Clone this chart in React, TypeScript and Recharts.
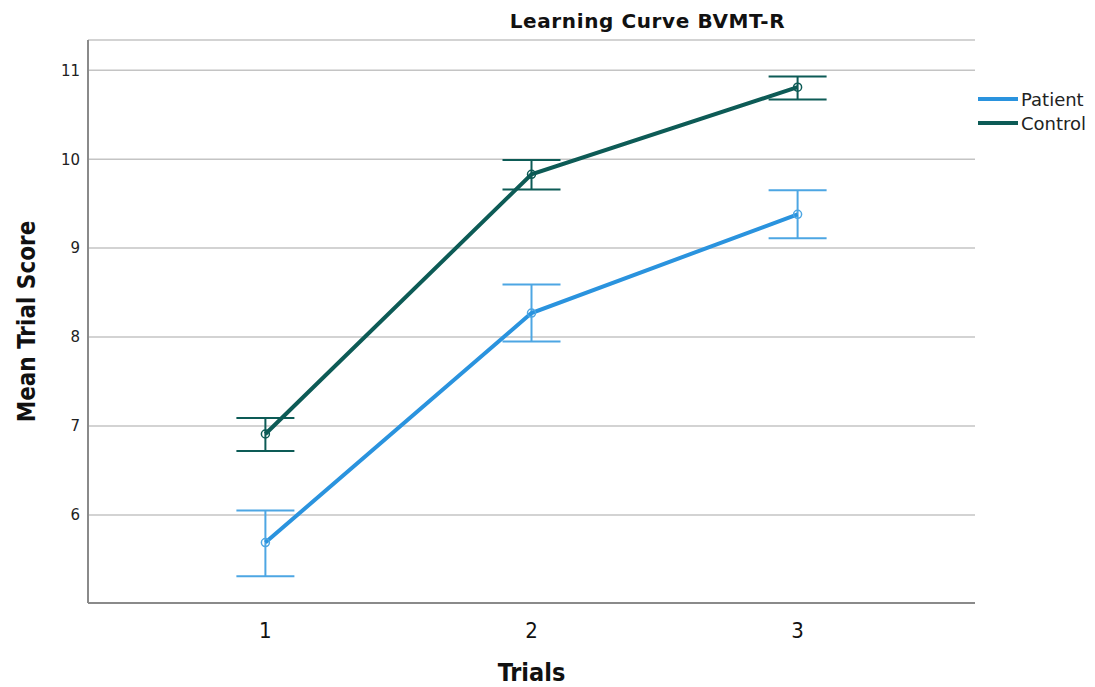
import React from "react";
import {
    LineChart,
    Line,
    XAxis,
    YAxis,
    CartesianGrid,
    ErrorBar,
} from "recharts";

const trials = [1, 2, 3];

const patientMean = [5.69, 8.27, 9.38];
const patientLower = [5.31, 7.95, 9.11];
const patientUpper = [6.05, 8.59, 9.65];

const controlMean = [6.91, 9.83, 10.81];
const controlLower = [6.72, 9.66, 10.67];
const controlUpper = [7.09, 9.99, 10.93];

const yTicks = [6, 7, 8, 9, 10, 11];

const PATIENT = "#2a93de";
const PATIENT_ERR = "#4da6e3";
const CONTROL = "#0d5b56";

const data = trials.map((t, i) => ({
    trial: t,
    patient: patientMean[i],
    patientErr: [patientMean[i] - patientLower[i], patientUpper[i] - patientMean[i]],
    control: controlMean[i],
    controlErr: [controlMean[i] - controlLower[i], controlUpper[i] - controlMean[i]],
}));

const series = [
    { name: "Patient", color: PATIENT },
    { name: "Control", color: CONTROL },
];

export default function App() {
    return (
        <div style={{ position: "absolute", left: 0, top: 0, width: 1095, height: 687, background: "#fff" }}>
            {/* titulo */}
            <div
                style={{
                    position: "absolute",
                    left: 0,
                    width: 1295,
                    textAlign: "center",
                    top: 9,
                    fontFamily: "'DejaVu Sans', sans-serif",
                    fontWeight: "bold",
                    fontSize: 20,
                    letterSpacing: 0.6,
                    color: "#111",
                }}
            >
                Learning Curve BVMT-R
            </div>

            {/* legenda */}
            <div
                style={{
                    position: "absolute",
                    left: 978,
                    top: 87,
                    fontFamily: "'DejaVu Sans', sans-serif",
                    fontSize: 18,
                    color: "#222",
                }}
            >
                {series.map((s) => (
                    <div key={s.name} style={{ display: "flex", alignItems: "center", height: 24 }}>
                        <svg width={40} height={10} style={{ marginRight: 3 }}>
                            <line x1={0} y1={5} x2={40} y2={5} stroke={s.color} strokeWidth={4} />
                        </svg>
                        <span>{s.name}</span>
                    </div>
                ))}
            </div>

            <LineChart
                width={1095}
                height={687}
                data={data}
                margin={{ top: 40, right: 120, bottom: 0, left: 0 }}
            >
                <CartesianGrid horizontal vertical={false} stroke="#c4c4c4" strokeWidth={1.5} />
                <XAxis
                    dataKey="trial"
                    type="number"
                    height={84}
                    domain={[1 / 3, 11 / 3]}
                    ticks={trials}
                    tickLine={false}
                    axisLine={{ stroke: "#8a8a8a", strokeWidth: 2 }}
                    tick={{ fontSize: 22, fill: "#111", fontFamily: "'DejaVu Sans Condensed', sans-serif" }}
                    tickMargin={13}
                    label={{
                        value: "Trials",
                        position: "insideBottom",
                        offset: 6,
                        style: { fontSize: 25, fontWeight: "bold", fill: "#111", fontFamily: "'DejaVu Sans Condensed', sans-serif" },
                    }}
                />
                <YAxis
                    type="number"
                    width={88}
                    domain={[5.01, 11.34]}
                    ticks={yTicks}
                    allowDataOverflow
                    tickLine={false}
                    axisLine={{ stroke: "#8a8a8a", strokeWidth: 2 }}
                    tick={{ fontSize: 15, fill: "#222", fontFamily: "'DejaVu Sans', sans-serif" }}
                    label={{
                        value: "Mean Trial Score",
                        angle: -90,
                        position: "insideLeft",
                        offset: 26,
                        style: { textAnchor: "middle", fontSize: 24, fontWeight: "bold", fill: "#111", fontFamily: "'DejaVu Sans Condensed', sans-serif" },
                    }}
                />
                <Line
                    dataKey="patient"
                    name="Patient"
                    stroke={PATIENT}
                    strokeWidth={4}
                    dot={{ r: 4, stroke: PATIENT_ERR, strokeWidth: 1.5, fill: "none" }}
                    activeDot={false}
                    isAnimationActive={false}
                >
                    <ErrorBar dataKey="patientErr" direction="y" width={29} stroke={PATIENT_ERR} strokeWidth={2} />
                </Line>
                <Line
                    dataKey="control"
                    name="Control"
                    stroke={CONTROL}
                    strokeWidth={4}
                    dot={{ r: 4, stroke: CONTROL, strokeWidth: 1.5, fill: "none" }}
                    activeDot={false}
                    isAnimationActive={false}
                >
                    <ErrorBar dataKey="controlErr" direction="y" width={29} stroke={CONTROL} strokeWidth={2} />
                </Line>
            </LineChart>
        </div>
    );
}
